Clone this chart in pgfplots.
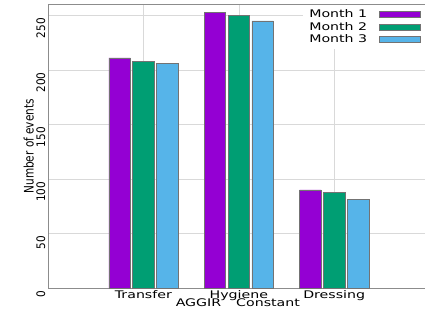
\documentclass[border=0pt]{standalone}
\usepackage{fontspec}
\setmainfont{DejaVu Sans}[FakeStretch=1.35]
\newfontfamily\rotfont{DejaVu Sans}
\usepackage{graphicx}
\usepackage{pgfplots}
\pgfplotsset{compat=1.18}
\definecolor{cpurple}{HTML}{9400D3}
\definecolor{cgreen}{HTML}{009E73}
\definecolor{cblue}{HTML}{56B4E9}
\definecolor{gridc}{HTML}{D9D9D9}
\definecolor{spinec}{HTML}{8C8C8C}
\newcommand{\fs}{\fontsize{10.5pt}{12.6pt}\selectfont}
\begin{document}
\begin{tikzpicture}
\begin{axis}[
  at={(0,0)}, anchor=south west,
  scale only axis, width=379.7pt, height=283.5pt,
  xmin=-1, xmax=2.98, ymin=0, ymax=260,
  ybar=2.4pt, bar width=0.225,
  xtick={0,1,2}, xticklabels={Transfer,Hygiene,Dressing},
  ytick={0,50,...,250},
  ymajorgrids, xmajorgrids,
  grid style={gridc, line width=0.6pt},
  axis line style={spinec, line width=0.8pt},
  major tick length=0pt,
  xticklabel style={font=\fs, anchor=base, yshift=-10pt},
  yticklabel style={rotate=90, anchor=south east, font=\fs, inner sep=2.5pt},
  yticklabel={\scalebox{1}[1.12]{\rotfont\pgfmathprintnumber[assume math mode=true]{\tick}}},
  ylabel={\scalebox{1}[1.25]{\rotfont Number of events}},
  ylabel style={font=\fs, at={(axis description cs:-0.038,0.5)}, anchor=base},
  xlabel={AGGIR\hspace{15pt}Constant},
  xlabel style={font=\fs, at={(axis description cs:0.5,0)}, anchor=base, yshift=-18.7pt},
  legend style={at={(axis description cs:0.993,1)}, anchor=north east, draw=none, fill=white,
    font=\fs, inner xsep=4pt, inner ysep=3pt, row sep=-1pt, legend cell align=left,
    /tikz/every odd column/.append style={column sep=10pt}},
  legend plot pos=right,
  legend image code/.code={\draw[#1] (0pt,-3pt) rectangle (41pt,3pt);},
]
\addplot[fill=cpurple, draw=black!55, line width=0.6pt] coordinates {(0,211) (1,253) (2,90)};
\addplot[fill=cgreen, draw=black!55, line width=0.6pt] coordinates {(0,208) (1,250) (2,88)};
\addplot[fill=cblue, draw=black!55, line width=0.6pt] coordinates {(0,206) (1,245) (2,81)};
\legend{Month 1, Month 2, Month 3}
\end{axis}
\pgfresetboundingbox
\useasboundingbox (-48pt,-21pt) rectangle (377pt,288pt);
\end{tikzpicture}
\end{document}
